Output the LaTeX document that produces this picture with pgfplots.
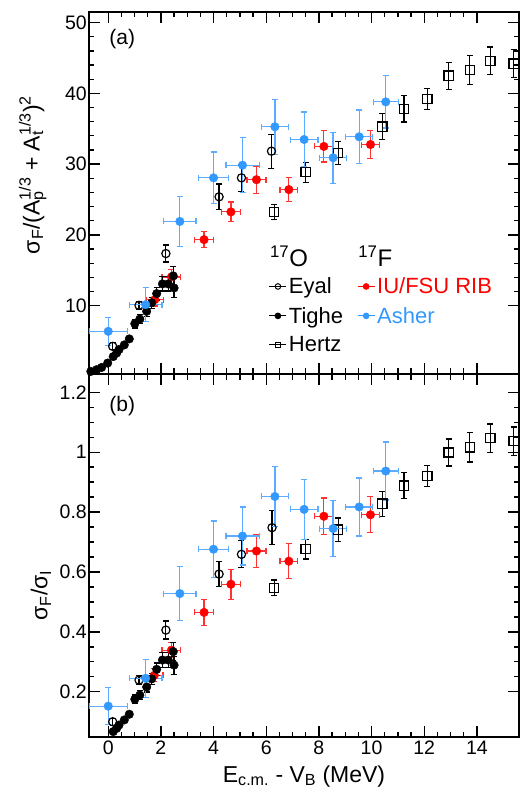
\documentclass[border=0pt]{standalone}
\usepackage{fontspec}
\setmainfont{Liberation Sans}
\usepackage{pgfplots}
\pgfplotsset{compat=1.18}
\usepackage{pgfplotstable}

\definecolor{iured}{RGB}{255,0,0}
\definecolor{ashblue}{RGB}{51,153,255}

% ---- panel (a): sigma_F/(Ap^1/3+At^1/3)^2
\pgfplotstableread{
x y ey
-0.66 0.70 0.15
-0.44 0.95 0.15
-0.25 1.27 0.20
-0.02 1.89 0.20
0.19 2.80 0.25
0.32 3.30 0.30
0.41 3.80 0.30
0.61 4.45 0.30
0.80 5.30 0.35
1.01 7.45 0.60
1.20 8.10 0.60
1.46 9.20 0.70
1.65 10.40 0.80
1.84 11.70 0.90
2.06 13.07 1.00
2.28 13.07 1.00
2.47 14.20 1.30
2.50 12.50 1.30
}\tigheA
\pgfplotstableread{
x y ey
0.17 4.25 0.50
1.17 10.04 0.60
2.19 17.36 1.20
4.21 25.38 1.80
5.06 28.06 1.90
6.20 31.83 2.40
}\eyalA
\pgfplotstableread{
x y ey
6.30 23.25 1.10
7.50 28.86 1.40
8.73 31.60 1.65
10.41 35.30 1.80
11.23 37.80 1.85
12.12 39.20 1.50
12.93 42.50 1.90
13.73 43.30 2.05
14.51 44.60 1.95
15.40 44.20 2.00
}\hertzA
\pgfplotstableread{
x y ex ey
1.77 10.85 0.33 0.90
2.40 14.06 0.36 1.00
3.64 19.33 0.36 1.13
4.66 23.25 0.36 1.40
5.63 27.80 0.36 1.90
6.86 26.40 0.34 1.70
8.19 32.50 0.35 2.20
9.96 32.77 0.35 2.00
}\iuA
\pgfplotstableread{
x y ex ey
0.00 6.37 0.73 2.00
1.42 10.14 0.62 2.40
2.72 21.90 0.61 3.50
4.00 28.06 0.58 3.65
5.10 29.85 0.63 3.90
6.33 35.28 0.51 3.90
7.44 33.48 0.53 3.90
8.54 30.90 0.51 3.60
9.53 33.86 0.51 3.80
10.54 38.80 0.47 3.70
}\asherA

% ---- panel (b): sigma_F/sigma_I
\pgfplotstableread{
x y ey
0.19 0.067 0.006
0.32 0.078 0.007
0.41 0.089 0.008
0.61 0.106 0.009
0.80 0.125 0.010
1.01 0.175 0.014
1.20 0.189 0.015
1.46 0.216 0.017
1.65 0.243 0.019
1.84 0.275 0.021
2.06 0.306 0.024
2.28 0.306 0.024
2.47 0.334 0.030
2.50 0.289 0.030
}\tigheB
\pgfplotstableread{
x y ey
0.17 0.100 0.012
1.17 0.239 0.015
2.19 0.406 0.030
4.21 0.593 0.042
5.06 0.659 0.045
6.22 0.748 0.057
}\eyalB
\pgfplotstableread{
x y ey
6.30 0.547 0.026
7.50 0.676 0.033
8.73 0.741 0.039
10.41 0.828 0.042
11.23 0.888 0.043
12.12 0.921 0.035
12.93 0.999 0.045
13.73 1.016 0.049
14.51 1.047 0.047
15.40 1.037 0.047
}\hertzB
\pgfplotstableread{
x y ex ey
1.75 0.255 0.33 0.022
2.40 0.339 0.36 0.025
3.64 0.465 0.36 0.043
4.66 0.559 0.36 0.050
5.63 0.670 0.36 0.054
6.86 0.636 0.34 0.058
8.19 0.786 0.35 0.061
9.96 0.791 0.35 0.060
}\iuB
\pgfplotstableread{
x y ex ey
0.00 0.152 0.73 0.061
1.42 0.245 0.62 0.063
2.72 0.528 0.61 0.090
4.00 0.676 0.58 0.094
5.10 0.720 0.63 0.097
6.33 0.852 0.51 0.100
7.44 0.809 0.53 0.100
8.54 0.745 0.51 0.093
9.53 0.817 0.51 0.097
10.54 0.937 0.47 0.097
}\asherB

\pgfplotsset{
  rootpanel/.style={
    scale only axis, width=430bp,
    xmin=-0.73, xmax=15.6,
    xtick={0,2,...,14}, minor x tick num=3,
    tick align=inside,
    major tick length=11bp, minor tick length=5.5bp,
    axis line style={line width=1.5bp},
    tick style={line width=1.3bp, black},
    tick label style={font=\fontsize{19.5bp}{22bp}\selectfont},
    yticklabel style={inner xsep=2bp},
    xticklabel style={inner ysep=4bp},
    /pgf/number format/assume math mode=true,
    label style={font=\fontsize{23bp}{27bp}\selectfont},
  },
  yonly/.style={forget plot, only marks, #1,
    error bars/.cd, y dir=both, y explicit,
    error bar style={line width=1.2bp},
    error mark options={rotate=90, mark size=3bp, line width=1.2bp}},
  xyerr/.style={forget plot, only marks, #1, mark=*, mark size=4.3bp,
    error bars/.cd, y dir=both, y explicit, x dir=both, x explicit,
    error bar style={line width=1.2bp, #1!80!white},
    error mark options={rotate=90, mark size=3bp, line width=1.2bp, #1!80!white}},
}

\newcommand{\legfont}{\fontsize{22bp}{25bp}\selectfont}
\newcommand{\headfont}{\fontsize{24bp}{27bp}\selectfont}

\begin{document}
\begin{tikzpicture}
\begin{axis}[rootpanel, name=top, height=362bp,
  ymin=0.34, ymax=51.5, ytick={10,20,30,40,50}, minor y tick num=4,
  xticklabels={},
  ylabel={σ\textsubscript{F}/(A\rlap{\textsubscript{p}}\textsuperscript{1/3} + A\rlap{\textsubscript{t}}\textsuperscript{1/3})\textsuperscript{2}},
  ylabel style={at={(ticklabel cs:0.55)}}, ylabel shift=13bp,
  legend columns=2,
  legend cell align=left,
  legend image code/.code={\draw[mark repeat=2,mark phase=2,#1] plot coordinates {(0bp,0bp) (8.5bp,0bp) (17bp,0bp)};},
  legend style={draw=none, fill=none, font=\legfont, inner sep=0pt,
    at={(rel axis cs:0.418,0.355)}, anchor=north west,
    row sep=8bp, nodes={inner sep=2bp},
    /tikz/column 2/.style={column sep=12bp}},
]
\addplot[yonly={black, mark=square, mark size=4.6bp, mark options={line width=1.3bp}}] table[x=x, y=y, y error=ey] {\hertzA};
\addplot[yonly={black, mark=o, mark size=4.1bp, mark options={line width=1.2bp}}] table[x=x, y=y, y error=ey] {\eyalA};
\addplot[xyerr=iured] table[x=x, y=y, x error=ex, y error=ey] {\iuA};
\addplot[yonly={black, mark=*, mark size=4.3bp}] table[x=x, y=y, y error=ey] {\tigheA};
\addplot[xyerr=ashblue] table[x=x, y=y, x error=ex, y error=ey] {\asherA};

\addlegendimage{legend image code/.code={\node[anchor=base west, inner sep=0pt, font=\headfont] at (0bp,-7bp) {\rlap{\textsuperscript{17}O}};}}
\addlegendentry{}
\addlegendimage{legend image code/.code={\node[anchor=base west, inner sep=0pt, font=\headfont] at (0bp,-7bp) {\rlap{\textsuperscript{17}F}};}}
\addlegendentry{}
\addlegendimage{black, line width=1bp, mark=o, mark size=2.8bp}
\addlegendentry{Eyal}
\addlegendimage{iured, line width=1bp, mark=*, mark size=2.8bp}
\addlegendentry{\textcolor{iured}{IU/FSU RIB}}
\addlegendimage{black, line width=1bp, mark=*, mark size=2.8bp}
\addlegendentry{Tighe}
\addlegendimage{ashblue, line width=1bp, mark=*, mark size=2.8bp}
\addlegendentry{\textcolor{ashblue}{Asher}}
\addlegendimage{black, line width=1bp, mark=square, mark size=2.8bp}
\addlegendentry{Hertz}

\node[anchor=west, inner sep=0pt, font=\fontsize{21bp}{23bp}\selectfont] at (rel axis cs:0.047,0.925) {(a)};
\end{axis}

\begin{axis}[rootpanel, name=bot, at={(top.south west)}, anchor=north west, height=363bp,
  ymin=0.049, ymax=1.261, ytick={0.2,0.4,0.6,0.8,1,1.2}, minor y tick num=3,
  xlabel={E\textsubscript{c.m.} - V\textsubscript{B} (MeV)},
  xlabel shift=3bp,
  ylabel={σ\textsubscript{F}/σ\textsubscript{I}},
  ylabel style={at={(ticklabel cs:0.39)}}, ylabel shift=3bp,
]
\addplot[yonly={black, mark=square, mark size=4.6bp, mark options={line width=1.3bp}}] table[x=x, y=y, y error=ey] {\hertzB};
\addplot[yonly={black, mark=o, mark size=4.1bp, mark options={line width=1.2bp}}] table[x=x, y=y, y error=ey] {\eyalB};
\addplot[xyerr=iured] table[x=x, y=y, x error=ex, y error=ey] {\iuB};
\addplot[yonly={black, mark=*, mark size=4.3bp}] table[x=x, y=y, y error=ey] {\tigheB};
\addplot[xyerr=ashblue] table[x=x, y=y, x error=ex, y error=ey] {\asherB};

\node[anchor=west, inner sep=0pt, font=\fontsize{21bp}{23bp}\selectfont] at (rel axis cs:0.047,0.912) {(b)};
\end{axis}

\pgfresetboundingbox
\path[use as bounding box] ([xshift=-89bp,yshift=12bp]top.north west) rectangle ([xshift=2bp,yshift=-52bp]bot.south east);
\end{tikzpicture}
\end{document}
